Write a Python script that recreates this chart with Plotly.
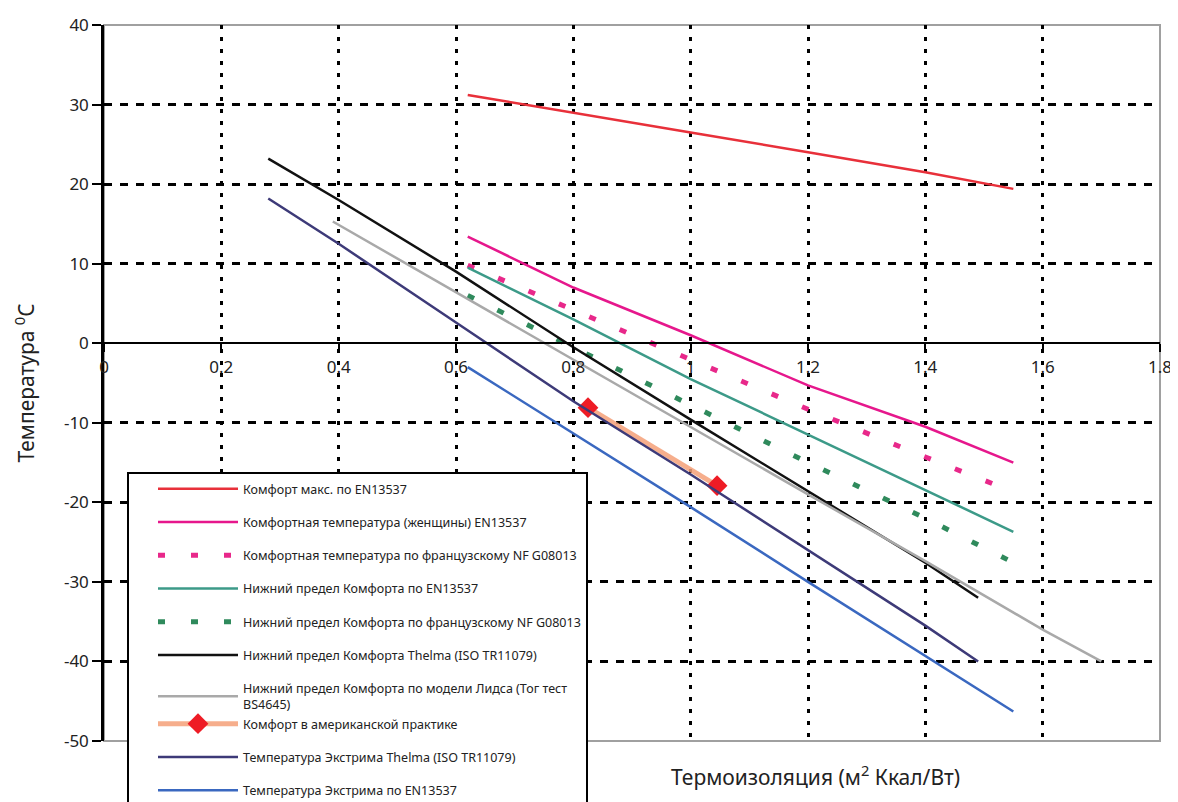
import plotly.graph_objects as go

# ---------------- data ----------------
names = [
    "Комфорт макс. по EN13537",
    "Комфортная температура (женщины) EN13537",
    "Комфортная температура по французскому NF G08013",
    "Нижний предел Комфорта по EN13537",
    "Нижний предел Комфорта по французскому NF G08013",
    "Нижний предел Комфорта Thelma (ISO TR11079)",
    "Нижний предел Комфорта по модели Лидса (Тог тест<br>BS4645)",
    "Комфорт в американской практике",
    "Температура Экстрима Thelma (ISO TR11079)",
    "Температура Экстрима по EN13537",
]

comfort_max_x = [0.62, 0.8, 1.0, 1.2, 1.4, 1.55]
comfort_max_y = [31.2, 29.0, 26.5, 24.0, 21.5, 19.4]

women_x = [0.62, 0.8, 1.0, 1.2, 1.4, 1.55]
women_y = [13.4, 7.0, 1.0, -5.3, -10.5, -15.0]

nf_comfort_x = [0.62, 0.8, 1.0, 1.2, 1.4, 1.54]
nf_comfort_y = [9.8, 4.2, -2.0, -8.3, -14.3, -18.4]

lower_en_x = [0.62, 0.8, 1.0, 1.2, 1.4, 1.55]
lower_en_y = [9.5, 3.0, -4.5, -11.5, -18.5, -23.7]

lower_nf_x = [0.62, 0.8, 1.0, 1.2, 1.4, 1.54]
lower_nf_y = [6.0, -0.5, -7.8, -15.0, -22.0, -27.2]

thelma_x = [0.28, 0.4, 0.6, 0.8, 1.0, 1.2, 1.4, 1.49]
thelma_y = [23.2, 18.0, 9.0, -0.5, -9.6, -18.6, -27.6, -32.0]

leeds_x = [0.39, 0.6, 0.8, 1.0, 1.2, 1.4, 1.6, 1.7]
leeds_y = [15.3, 6.4, -2.1, -10.5, -19.0, -27.4, -36.0, -40.0]

usa_x = [0.825, 1.045]
usa_y = [-8.1, -17.9]

extreme_thelma_x = [0.28, 0.4, 0.6, 0.8, 1.0, 1.2, 1.4, 1.49]
extreme_thelma_y = [18.2, 12.5, 2.6, -7.3, -16.5, -26.0, -35.5, -40.0]

extreme_en_x = [0.62, 0.8, 1.0, 1.2, 1.4, 1.55]
extreme_en_y = [-3.0, -11.3, -20.6, -30.0, -39.3, -46.3]

x_ticks = [0, 0.2, 0.4, 0.6, 0.8, 1, 1.2, 1.4, 1.6, 1.8]
x_labels = ["0", "0.2", "0.4", "0.6", "0.8", "1", "1.2", "1.4", "1.6", "1.8"]
y_ticks = [-50, -40, -30, -20, -10, 0, 10, 20, 30, 40]
y_labels = ["-50", "-40", "-30", "-20", "-10", "0", "10", "20", "30", "40"]
x_grid = [0.2, 0.4, 0.6, 0.8, 1.0, 1.2, 1.4, 1.6]
y_grid = [-40, -30, -20, -10, 10, 20, 30]

# legend groups (Leeds and American share one so the two-line entry takes no extra gap)
groups = ["g0", "g1", "g2", "g3", "g4", "g5", "g6", "g6", "g8", "g9"]

# ---------------- figure ----------------
FONT = "Noto Sans"
fig = go.Figure()

series = [
    (comfort_max_x, comfort_max_y, dict(color="#e8303a", width=2.5), None),
    (women_x, women_y, dict(color="#e6178c", width=2.5), None),
    (nf_comfort_x, nf_comfort_y, dict(color="#e8288a", width=5, dash="7px,26px"), None),
    (lower_en_x, lower_en_y, dict(color="#3c9a88", width=2.5), None),
    (lower_nf_x, lower_nf_y, dict(color="#2f8a5c", width=5, dash="7px,26px"), None),
    (thelma_x, thelma_y, dict(color="#111111", width=2.5), None),
    (leeds_x, leeds_y, dict(color="#a9a9a9", width=2.5), None),
    (usa_x, usa_y, dict(color="rgba(244,160,120,0.85)", width=5), dict(symbol="diamond", size=16, color="#ee1c25")),
    (extreme_thelma_x, extreme_thelma_y, dict(color="#3d3a78", width=2.5), None),
    (extreme_en_x, extreme_en_y, dict(color="#3a68c0", width=2.5), None),
]

for i, (xs, ys, line, marker) in enumerate(series):
    fig.add_trace(go.Scatter(
        x=xs, y=ys, name=names[i], legendgroup=groups[i],
        mode="lines+markers" if marker else "lines",
        line=line, marker=marker, showlegend=True,
    ))

fig.update_layout(
    width=1170, height=794,
    margin=dict(l=96, r=18, t=17, b=61, autoexpand=False),
    paper_bgcolor="white", plot_bgcolor="white",
    font=dict(family=FONT, color="#222"),
    xaxis=dict(
        range=[0, 1.8], tickvals=x_ticks, ticktext=x_labels,
        anchor="free", position=50 / 90,
        showline=True, linecolor="black", linewidth=2,
        ticks="outside", ticklen=8, tickwidth=2, tickcolor="black",
        tickfont=dict(size=17, family=FONT, color="#222"),
        showgrid=False, zeroline=False,
    ),
    yaxis=dict(
        range=[-50, 40], tickvals=y_ticks, ticktext=y_labels,
        showline=True, linecolor="black", linewidth=2.5,
        ticks="outside", ticklen=9, tickwidth=2, tickcolor="black",
        tickfont=dict(size=17, family=FONT, color="#222"),
        showgrid=False, zeroline=False,
        title=dict(text="Температура <sup>0</sup>C", font=dict(size=21, family=FONT, color="#222"), standoff=24),
    ),
    xaxis2=dict(
        range=[0, 1.8], overlaying="x", tickvals=x_grid, showticklabels=False, ticks="",
        showgrid=True, gridcolor="black", gridwidth=3, griddash="4px,8px", zeroline=False, showline=False,
    ),
    yaxis2=dict(
        range=[-50, 40], overlaying="y", tickvals=y_grid, showticklabels=False, ticks="",
        showgrid=True, gridcolor="black", gridwidth=2.5, griddash="8px,8px", zeroline=False, showline=False,
    ),
    legend=dict(
        x=(127 - 104) / 1056, y=(741 - 472) / 716, xanchor="left", yanchor="top",
        bgcolor="white", bordercolor="black", borderwidth=2,
        font=dict(size=12.5, family=FONT, color="#222"),
        itemwidth=80, traceorder="grouped", tracegroupgap=14, indentation=24,
    ),
    showlegend=True,
)

# invisible trace so the grid axes are drawn
fig.add_trace(go.Scatter(x=[0.5], y=[0], xaxis="x2", yaxis="y2", mode="markers",
                         marker=dict(opacity=0), showlegend=False, hoverinfo="skip"))

# plot frame (gray)
fig.add_shape(type="rect", xref="paper", yref="paper", x0=0, y0=0, x1=1, y1=1,
              line=dict(color="#a0a0a0", width=2), layer="below")
# gap in the grid behind the x tick labels
fig.add_shape(type="rect", xref="paper", yref="y", x0=0.003, x1=0.995, y0=-5.8, y1=-0.8,
              line=dict(width=0), fillcolor="white", layer="between")

fig.add_annotation(
    text="Термоизоляция (м<sup>2</sup> Ккал/Вт)", xref="paper", yref="paper",
    x=(815 - 104) / 1056, y=(741 - 775) / 716, xanchor="center", yanchor="middle",
    showarrow=False, font=dict(size=21, family=FONT, color="#222"),
)

fig.write_html("out.html")
